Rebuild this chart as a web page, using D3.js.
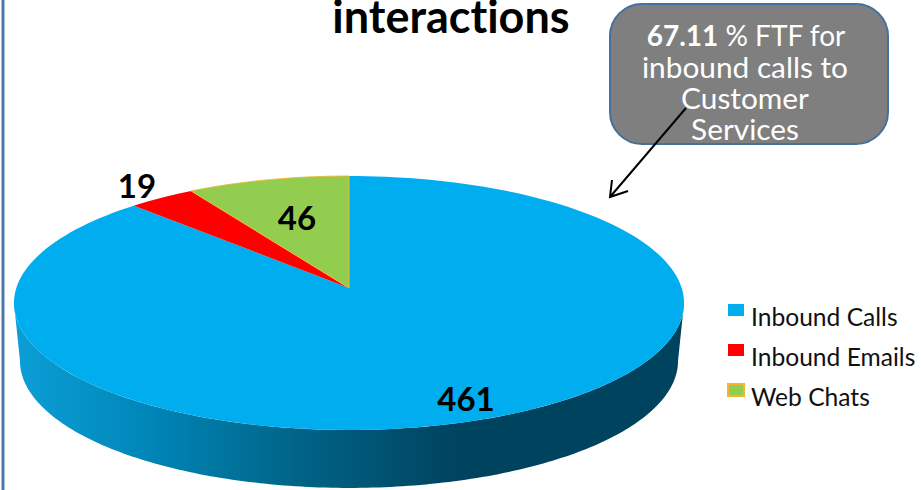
<!DOCTYPE html>
<html>
<head>
<meta charset="utf-8">
<script src="https://cdn.jsdelivr.net/npm/d3@7/dist/d3.min.js"></script>
<style>
html,body{margin:0;padding:0;background:#fff;overflow:hidden}
svg{display:block}
text{font-family:Lato,"Open Sans",sans-serif;font-variant-ligatures:none}
</style>
</head>
<body>
<svg id="chart" width="921" height="490"></svg>
<script>
// Interactions by channel
const categories = ["Inbound Calls", "Inbound Emails", "Web Chats"];
const values = [461, 19, 46];
const colors = ["#00aeef", "#ff0000", "#92cd4f"];
const chartTitle = "interactions";
const calloutFigure = "67.11";
const calloutLines = ["inbound calls to", "Customer", "Services"];

const svg = d3.select("#chart");

// Disc tilt: a circle seen in perspective, with its hub above the ellipse centre
const hubX = 349, hubY = 288, radius = 332.7, tilt = 0.118, lift = -91.2;
const depth = 58, baseShrink = 0.982;

const project = theta => {
  const u = Math.sin(theta), v = Math.cos(theta), w = 1 + tilt * v;
  return [hubX + radius * u / w, (hubY + lift * v) / w];
};

// Pie angles run clockwise from twelve o'clock
const pie = d3.pie().value(d => d).sort(null).startAngle(0).endAngle(2 * Math.PI);
const arcs = pie(values);

const line = d3.line();
const steps = (a, b) => d3.range(0, 181).map(i => a + (b - a) * i / 180);

// Left rule of the frame
svg.append("rect").attr("x", 1).attr("y", 0).attr("width", 4).attr("height", 490).attr("fill", "#a9bfd8");
svg.append("rect").attr("x", 2).attr("y", 0).attr("width", 2).attr("height", 490).attr("fill", "#4a76a8");

// Shaded rim, running between the two silhouette points of the disc
const defs = svg.append("defs");
const rim = defs.append("linearGradient").attr("id", "rim").attr("gradientUnits", "userSpaceOnUse")
  .attr("x1", 14).attr("x2", 684).attr("y1", 0).attr("y2", 0);
[[0, "#0b9fd7"], [0.2, "#0086b8"], [0.42, "#006488"], [0.66, "#00435f"], [1, "#00435f"]]
  .forEach(([o, c]) => rim.append("stop").attr("offset", o).attr("stop-color", c));

const sideAngle = Math.acos(-tilt);
const baseOf = ([x, y]) => [hubX + (x - hubX) * baseShrink, y + depth];
const frontAll = steps(sideAngle, 2 * Math.PI - sideAngle);
const topEdge = frontAll.map(project);
const baseEdge = topEdge.map(baseOf).reverse();
svg.append("path").attr("d", line(topEdge.concat(baseEdge)) + "Z").attr("fill", "url(#rim)");

// Pie wedges on the top face
const wedge = d => line([[hubX, hubY]].concat(steps(d.startAngle, d.endAngle).map(project))) + "Z";
svg.selectAll("path.wedge").data(arcs).join("path").attr("class", "wedge")
  .attr("d", wedge)
  .attr("fill", (d, i) => colors[i])
  .attr("stroke", (d, i) => i === 2 ? "#f2b632" : "none")
  .attr("stroke-width", 1);

// Value labels
const labelAt = [[466, 411], [137, 198], [297, 230]];
svg.selectAll("text.value").data(values).join("text").attr("class", "value")
  .attr("x", (d, i) => labelAt[i][0]).attr("y", (d, i) => labelAt[i][1])
  .attr("text-anchor", "middle").attr("font-size", 33).attr("font-weight", 700).attr("fill", "#000")
  .text(d => d);

// Title
svg.append("text").attr("x", 451).attr("y", 33).attr("text-anchor", "middle")
  .attr("font-size", 45).attr("font-weight", 700).attr("fill", "#000").text(chartTitle);

// Callout box and its arrow
svg.append("rect").attr("x", 610).attr("y", 4).attr("width", 278).attr("height", 140)
  .attr("rx", 32).attr("fill", "#7f7f7f").attr("stroke", "#41719c").attr("stroke-width", 2);
const first = svg.append("text").attr("x", 746).attr("y", 46).attr("text-anchor", "middle")
  .attr("font-size", 28).attr("fill", "#fff");
first.append("tspan").attr("font-weight", 700).text(calloutFigure);
first.append("tspan").text(" % FTF for");
svg.selectAll("text.callout").data(calloutLines).join("text").attr("class", "callout")
  .attr("x", 745).attr("y", (d, i) => 78 + i * 31).attr("text-anchor", "middle")
  .attr("font-size", 29.8).attr("fill", "#fff").text(d => d);
svg.append("path").attr("d", "M686,108L610,197M628,191L610,197L612,180")
  .attr("fill", "none").attr("stroke", "#000").attr("stroke-width", 2);

// Legend
const swatchTop = [304, 344, 384];
svg.selectAll("rect.key").data(categories).join("rect").attr("class", "key")
  .attr("x", 728).attr("y", (d, i) => swatchTop[i]).attr("width", 16).attr("height", 12)
  .attr("fill", (d, i) => colors[i])
  .attr("stroke", (d, i) => i === 2 ? "#f2b632" : "none").attr("stroke-width", 2);
svg.selectAll("text.key").data(categories).join("text").attr("class", "key")
  .attr("x", 751).attr("y", (d, i) => 326 + i * 40).attr("font-size", 24.6).attr("fill", "#111").text(d => d);
</script>
</body>
</html>
